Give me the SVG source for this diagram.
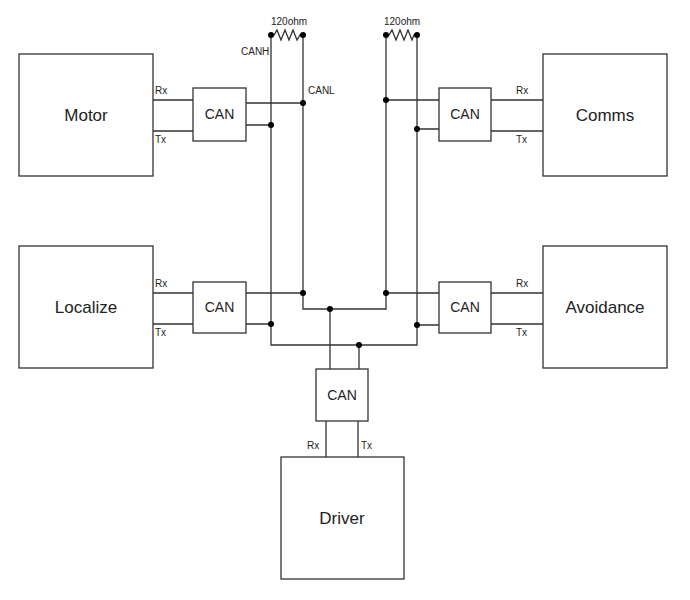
<svg xmlns="http://www.w3.org/2000/svg" width="690" height="600" viewBox="0 0 690 600">
<style>
.b{fill:#fff;stroke:#333;stroke-width:1.3}
.l{fill:none;stroke:#333;stroke-width:1.3}
.t{font-family:"Liberation Sans",Arial,sans-serif;fill:#222}
.big{font-size:17px}.mid{font-size:14px}.sm{font-size:10px}
</style>
<rect width="690" height="600" fill="#fff"/>
<g id="connectors" class="l">
<path d="M153,100H193M153,131H193M153,293H193M153,324H193M543,100H491M543,131H491M543,293H491M543,324H491"/>
<path d="M271,35V345H417V35M303,35V309H386V35M330,309V369M359,345V369M326,421V457M358,421V457"/>
<path d="M246,103H303M246,125H271M246,293H303M246,324H271M439,100H386M439,129H417M439,293H386M439,325H417"/>
<path d="M271,35H274l3,-5l4,10l4,-10l4,10l4,-10l4,10l3,-5H303"/>
<path d="M386,35H389l3,-5l4,10l4,-10l4,10l4,-10l4,10l2,-5H417"/>
</g>
<g fill="#000">
<circle cx="271" cy="35" r="3"/><circle cx="303" cy="35" r="3"/><circle cx="386" cy="35" r="3"/><circle cx="417" cy="35" r="3"/>
<circle cx="303" cy="103" r="3"/><circle cx="271" cy="125" r="3"/><circle cx="386" cy="100" r="3"/><circle cx="417" cy="129" r="3"/>
<circle cx="303" cy="293" r="3"/><circle cx="271" cy="324" r="3"/><circle cx="386" cy="293" r="3"/><circle cx="417" cy="325" r="3"/>
<circle cx="330" cy="309" r="3"/><circle cx="359" cy="345" r="3"/>
</g>
<g class="t sm">
<text x="271" y="25">120ohm</text><text x="384" y="25">120ohm</text>
<text x="241" y="55">CANH</text><text x="308" y="94">CANL</text>
<text x="155" y="94">Rx</text><text x="155" y="143">Tx</text><text x="155" y="287">Rx</text><text x="155" y="336">Tx</text>
<text x="516" y="94">Rx</text><text x="516" y="143">Tx</text><text x="516" y="287">Rx</text><text x="516" y="336">Tx</text>
<text x="307" y="449">Rx</text><text x="361" y="449">Tx</text>
</g>
<g id="motor"><rect class="b" x="19" y="54" width="134" height="122"/><text class="t big" x="86" y="121" text-anchor="middle">Motor</text></g>
<g id="comms"><rect class="b" x="543" y="54" width="124" height="122"/><text class="t big" x="605" y="121" text-anchor="middle">Comms</text></g>
<g id="localize"><rect class="b" x="19" y="246" width="134" height="122"/><text class="t big" x="86" y="313" text-anchor="middle">Localize</text></g>
<g id="avoidance"><rect class="b" x="543" y="246" width="124" height="122"/><text class="t big" x="605" y="313" text-anchor="middle">Avoidance</text></g>
<g id="driver"><rect class="b" x="281" y="457" width="123" height="122"/><text class="t big" x="342" y="524" text-anchor="middle">Driver</text></g>
<g id="can1"><rect class="b" x="193" y="88" width="53" height="53"/><text class="t mid" x="219.5" y="119" text-anchor="middle">CAN</text></g>
<g id="can2"><rect class="b" x="439" y="88" width="52" height="53"/><text class="t mid" x="465" y="119" text-anchor="middle">CAN</text></g>
<g id="can3"><rect class="b" x="193" y="282" width="53" height="51"/><text class="t mid" x="219.5" y="312" text-anchor="middle">CAN</text></g>
<g id="can4"><rect class="b" x="439" y="282" width="52" height="51"/><text class="t mid" x="465" y="312" text-anchor="middle">CAN</text></g>
<g id="can5"><rect class="b" x="316" y="369" width="52" height="52"/><text class="t mid" x="342" y="400" text-anchor="middle">CAN</text></g>
</svg>
